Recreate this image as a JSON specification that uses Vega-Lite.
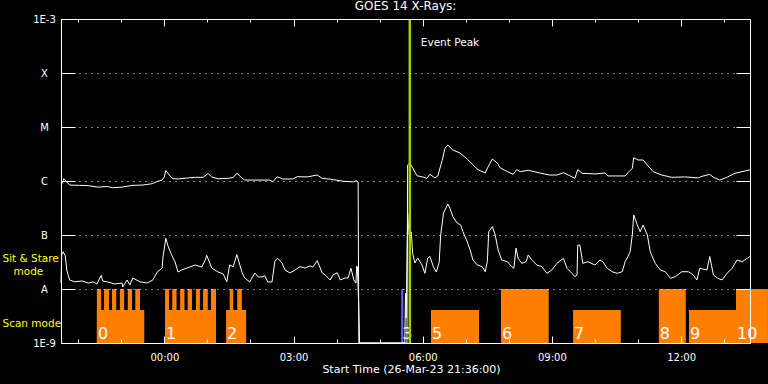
{
  "$schema": "https://vega.github.io/schema/vega-lite/v6.json",
  "width": 689,
  "height": 324,
  "autosize": {"type": "none"},
  "padding": {"left": 61, "top": 19, "right": 18, "bottom": 41},
  "background": "black",
  "config": {
    "font": "DejaVu Sans",
    "view": {"stroke": null},
    "axis": {"domainColor": "white", "tickColor": "white", "labelColor": "white", "titleColor": "white", "labelFont": "DejaVu Sans", "titleFont": "DejaVu Sans", "labelOverlap": false, "domainWidth": 1, "tickWidth": 1}
  },
  "title": {"text": "GOES 14 X-Rays:", "color": "white", "fontSize": 12, "fontWeight": "normal", "anchor": "middle", "offset": 6, "baseline": "alphabetic", "dy": 14, "font": "DejaVu Sans"},
  "resolve": {"axis": {"x": "independent", "y": "independent"}},
  "datasets": {
    "events": [
      {"label": "Event Peak", "t": "2023-03-27T05:42"}
    ],
    "bars": [
      {"group": 0, "t0": "2023-03-26T22:26", "t1": "2023-03-26T23:32", "level": 4.1e-9},
      {"group": 0, "t0": "2023-03-26T22:26", "t1": "2023-03-26T22:32", "level": 1e-8},
      {"group": 0, "t0": "2023-03-26T22:36", "t1": "2023-03-26T22:43", "level": 1e-8},
      {"group": 0, "t0": "2023-03-26T22:47", "t1": "2023-03-26T22:53", "level": 1e-8},
      {"group": 0, "t0": "2023-03-26T22:58", "t1": "2023-03-26T23:04", "level": 1e-8},
      {"group": 0, "t0": "2023-03-26T23:09", "t1": "2023-03-26T23:15", "level": 1e-8},
      {"group": 0, "t0": "2023-03-26T23:19:30", "t1": "2023-03-26T23:26", "level": 1e-8},
      {"group": 1, "t0": "2023-03-27T00:01", "t1": "2023-03-27T01:12", "level": 4.1e-9},
      {"group": 1, "t0": "2023-03-27T00:01", "t1": "2023-03-27T00:06:30", "level": 1e-8},
      {"group": 1, "t0": "2023-03-27T00:11", "t1": "2023-03-27T00:17", "level": 1e-8},
      {"group": 1, "t0": "2023-03-27T00:22", "t1": "2023-03-27T00:28", "level": 1e-8},
      {"group": 1, "t0": "2023-03-27T00:32:30", "t1": "2023-03-27T00:38:30", "level": 1e-8},
      {"group": 1, "t0": "2023-03-27T00:44", "t1": "2023-03-27T00:49:30", "level": 1e-8},
      {"group": 1, "t0": "2023-03-27T00:54", "t1": "2023-03-27T01:00:30", "level": 1e-8},
      {"group": 1, "t0": "2023-03-27T01:05", "t1": "2023-03-27T01:12", "level": 1e-8},
      {"group": 2, "t0": "2023-03-27T01:26", "t1": "2023-03-27T01:54", "level": 4.1e-9},
      {"group": 2, "t0": "2023-03-27T01:31", "t1": "2023-03-27T01:36", "level": 1e-8},
      {"group": 2, "t0": "2023-03-27T01:41:30", "t1": "2023-03-27T01:48", "level": 1e-8},
      {"group": 3, "t0": "2023-03-27T05:30", "t1": "2023-03-27T05:33", "level": 1e-8},
      {"group": 5, "t0": "2023-03-27T06:11:30", "t1": "2023-03-27T07:18:30", "level": 4.1e-9},
      {"group": 6, "t0": "2023-03-27T07:49", "t1": "2023-03-27T08:55:30", "level": 1e-8},
      {"group": 7, "t0": "2023-03-27T09:29:30", "t1": "2023-03-27T10:36", "level": 4.1e-9},
      {"group": 8, "t0": "2023-03-27T11:29", "t1": "2023-03-27T12:06:30", "level": 1e-8},
      {"group": 9, "t0": "2023-03-27T12:11", "t1": "2023-03-27T13:16:30", "level": 4.1e-9},
      {"group": 10, "t0": "2023-03-27T13:16:30", "t1": "2023-03-27T14:01", "level": 1e-8}
    ],
    "groups": [
      {"group": "0", "t": "2023-03-26T22:26"},
      {"group": "1", "t": "2023-03-27T00:01"},
      {"group": "2", "t": "2023-03-27T01:26"},
      {"group": "3", "t": "2023-03-27T05:30"},
      {"group": "5", "t": "2023-03-27T06:11:30"},
      {"group": "6", "t": "2023-03-27T07:49"},
      {"group": "7", "t": "2023-03-27T09:29:30"},
      {"group": "8", "t": "2023-03-27T11:29"},
      {"group": "9", "t": "2023-03-27T12:11"},
      {"group": "10", "t": "2023-03-27T13:16:30"}
    ],
    "xrays": [
      {"band": "long", "t": "2023-03-26T21:36", "flux": 8.1e-7},
      {"band": "long", "t": "2023-03-26T21:40", "flux": 1.11e-6},
      {"band": "long", "t": "2023-03-26T21:48", "flux": 8.4e-7},
      {"band": "long", "t": "2023-03-26T22:02", "flux": 8.3e-7},
      {"band": "long", "t": "2023-03-26T22:14", "flux": 8.2e-7},
      {"band": "long", "t": "2023-03-26T22:28", "flux": 7.7e-7},
      {"band": "long", "t": "2023-03-26T22:41", "flux": 7.9e-7},
      {"band": "long", "t": "2023-03-26T22:48", "flux": 7.5e-7},
      {"band": "long", "t": "2023-03-26T23:01", "flux": 7.7e-7},
      {"band": "long", "t": "2023-03-26T23:15", "flux": 8.3e-7},
      {"band": "long", "t": "2023-03-26T23:29", "flux": 8.4e-7},
      {"band": "long", "t": "2023-03-26T23:43", "flux": 8.9e-7},
      {"band": "long", "t": "2023-03-26T23:51", "flux": 9.9e-7},
      {"band": "long", "t": "2023-03-26T23:57", "flux": 1.04e-6},
      {"band": "long", "t": "2023-03-27T00:00", "flux": 1.19e-6},
      {"band": "long", "t": "2023-03-27T00:02", "flux": 1.56e-6},
      {"band": "long", "t": "2023-03-27T00:08", "flux": 1.24e-6},
      {"band": "long", "t": "2023-03-27T00:12", "flux": 1.10e-6},
      {"band": "long", "t": "2023-03-27T00:19", "flux": 1.09e-6},
      {"band": "long", "t": "2023-03-27T00:33", "flux": 1.14e-6},
      {"band": "long", "t": "2023-03-27T00:43", "flux": 1.17e-6},
      {"band": "long", "t": "2023-03-27T00:54", "flux": 1.17e-6},
      {"band": "long", "t": "2023-03-27T01:01", "flux": 1.38e-6},
      {"band": "long", "t": "2023-03-27T01:06", "flux": 1.19e-6},
      {"band": "long", "t": "2023-03-27T01:15", "flux": 1.10e-6},
      {"band": "long", "t": "2023-03-27T01:29", "flux": 1.12e-6},
      {"band": "long", "t": "2023-03-27T01:36", "flux": 1.16e-6},
      {"band": "long", "t": "2023-03-27T01:41", "flux": 1.39e-6},
      {"band": "long", "t": "2023-03-27T01:48", "flux": 1.14e-6},
      {"band": "long", "t": "2023-03-27T01:52", "flux": 1.04e-6},
      {"band": "long", "t": "2023-03-27T02:04", "flux": 1.04e-6},
      {"band": "long", "t": "2023-03-27T02:27", "flux": 1.04e-6},
      {"band": "long", "t": "2023-03-27T02:31", "flux": 9.6e-7},
      {"band": "long", "t": "2023-03-27T02:37", "flux": 1.19e-6},
      {"band": "long", "t": "2023-03-27T02:41", "flux": 1.15e-6},
      {"band": "long", "t": "2023-03-27T02:45", "flux": 1.09e-6},
      {"band": "long", "t": "2023-03-27T02:59", "flux": 1.09e-6},
      {"band": "long", "t": "2023-03-27T03:05", "flux": 1.20e-6},
      {"band": "long", "t": "2023-03-27T03:19", "flux": 1.19e-6},
      {"band": "long", "t": "2023-03-27T03:33", "flux": 1.29e-6},
      {"band": "long", "t": "2023-03-27T03:40", "flux": 1.12e-6},
      {"band": "long", "t": "2023-03-27T03:51", "flux": 1.08e-6},
      {"band": "long", "t": "2023-03-27T04:09", "flux": 9.9e-7},
      {"band": "long", "t": "2023-03-27T04:23", "flux": 9.6e-7},
      {"band": "long", "t": "2023-03-27T04:28", "flux": 1.01e-6},
      {"band": "long", "t": "2023-03-27T04:30", "flux": 9.6e-7},
      {"band": "long", "t": "2023-03-27T04:31", "flux": 1e-9},
      {"band": "long", "t": "2023-03-27T05:38", "flux": 1e-9},
      {"band": "long", "t": "2023-03-27T05:39", "flux": 1.98e-6},
      {"band": "long", "t": "2023-03-27T05:42", "flux": 2.15e-6},
      {"band": "long", "t": "2023-03-27T05:45", "flux": 1.84e-6},
      {"band": "long", "t": "2023-03-27T05:52", "flux": 1.25e-6},
      {"band": "long", "t": "2023-03-27T06:00", "flux": 1.19e-6},
      {"band": "long", "t": "2023-03-27T06:06", "flux": 1.12e-6},
      {"band": "long", "t": "2023-03-27T06:10", "flux": 1.33e-6},
      {"band": "long", "t": "2023-03-27T06:17", "flux": 1.14e-6},
      {"band": "long", "t": "2023-03-27T06:21", "flux": 1.24e-6},
      {"band": "long", "t": "2023-03-27T06:27", "flux": 2.38e-6},
      {"band": "long", "t": "2023-03-27T06:31", "flux": 4.03e-6},
      {"band": "long", "t": "2023-03-27T06:35", "flux": 4.64e-6},
      {"band": "long", "t": "2023-03-27T06:42", "flux": 3.75e-6},
      {"band": "long", "t": "2023-03-27T06:52", "flux": 3.30e-6},
      {"band": "long", "t": "2023-03-27T07:02", "flux": 2.55e-6},
      {"band": "long", "t": "2023-03-27T07:09", "flux": 2.06e-6},
      {"band": "long", "t": "2023-03-27T07:17", "flux": 1.62e-6},
      {"band": "long", "t": "2023-03-27T07:27", "flux": 1.41e-6},
      {"band": "long", "t": "2023-03-27T07:31", "flux": 1.82e-6},
      {"band": "long", "t": "2023-03-27T07:37", "flux": 2.55e-6},
      {"band": "long", "t": "2023-03-27T07:44", "flux": 2.15e-6},
      {"band": "long", "t": "2023-03-27T07:48", "flux": 1.74e-6},
      {"band": "long", "t": "2023-03-27T07:58", "flux": 1.49e-6},
      {"band": "long", "t": "2023-03-27T08:06", "flux": 1.33e-6},
      {"band": "long", "t": "2023-03-27T08:11", "flux": 1.62e-6},
      {"band": "long", "t": "2023-03-27T08:16", "flux": 1.49e-6},
      {"band": "long", "t": "2023-03-27T08:27", "flux": 1.58e-6},
      {"band": "long", "t": "2023-03-27T08:43", "flux": 1.41e-6},
      {"band": "long", "t": "2023-03-27T08:57", "flux": 1.29e-6},
      {"band": "long", "t": "2023-03-27T09:07", "flux": 1.29e-6},
      {"band": "long", "t": "2023-03-27T09:16", "flux": 1.43e-6},
      {"band": "long", "t": "2023-03-27T09:25", "flux": 1.25e-6},
      {"band": "long", "t": "2023-03-27T09:32", "flux": 1.12e-6},
      {"band": "long", "t": "2023-03-27T09:36", "flux": 1.63e-6},
      {"band": "long", "t": "2023-03-27T09:42", "flux": 1.39e-6},
      {"band": "long", "t": "2023-03-27T10:00", "flux": 1.35e-6},
      {"band": "long", "t": "2023-03-27T10:14", "flux": 1.41e-6},
      {"band": "long", "t": "2023-03-27T10:18", "flux": 1.24e-6},
      {"band": "long", "t": "2023-03-27T10:42", "flux": 1.24e-6},
      {"band": "long", "t": "2023-03-27T10:46", "flux": 1.43e-6},
      {"band": "long", "t": "2023-03-27T10:52", "flux": 1.72e-6},
      {"band": "long", "t": "2023-03-27T10:54", "flux": 2.70e-6},
      {"band": "long", "t": "2023-03-27T11:00", "flux": 2.45e-6},
      {"band": "long", "t": "2023-03-27T11:07", "flux": 2.45e-6},
      {"band": "long", "t": "2023-03-27T11:14", "flux": 1.90e-6},
      {"band": "long", "t": "2023-03-27T11:21", "flux": 1.49e-6},
      {"band": "long", "t": "2023-03-27T11:33", "flux": 1.29e-6},
      {"band": "long", "t": "2023-03-27T11:47", "flux": 1.17e-6},
      {"band": "long", "t": "2023-03-27T12:06", "flux": 1.19e-6},
      {"band": "long", "t": "2023-03-27T12:24", "flux": 1.14e-6},
      {"band": "long", "t": "2023-03-27T12:29", "flux": 1.22e-6},
      {"band": "long", "t": "2023-03-27T12:40", "flux": 1.33e-6},
      {"band": "long", "t": "2023-03-27T12:45", "flux": 1.17e-6},
      {"band": "long", "t": "2023-03-27T12:54", "flux": 1.04e-6},
      {"band": "long", "t": "2023-03-27T13:05", "flux": 1.19e-6},
      {"band": "long", "t": "2023-03-27T13:15", "flux": 1.39e-6},
      {"band": "long", "t": "2023-03-27T13:33", "flux": 1.58e-6},
      {"band": "long", "t": "2023-03-27T13:36", "flux": 1.60e-6},
      {"band": "short", "t": "2023-03-26T21:36", "flux": 1.29e-8},
      {"band": "short", "t": "2023-03-26T21:37", "flux": 4.3e-8},
      {"band": "short", "t": "2023-03-26T21:39", "flux": 4.9e-8},
      {"band": "short", "t": "2023-03-26T21:42", "flux": 4.1e-8},
      {"band": "short", "t": "2023-03-26T21:44", "flux": 2.25e-8},
      {"band": "short", "t": "2023-03-26T21:48", "flux": 1.47e-8},
      {"band": "short", "t": "2023-03-26T21:55", "flux": 1.36e-8},
      {"band": "short", "t": "2023-03-26T22:05", "flux": 1.41e-8},
      {"band": "short", "t": "2023-03-26T22:14", "flux": 1.29e-8},
      {"band": "short", "t": "2023-03-26T22:21", "flux": 1.35e-8},
      {"band": "short", "t": "2023-03-26T22:26", "flux": 1.24e-8},
      {"band": "short", "t": "2023-03-26T22:32", "flux": 1.78e-8},
      {"band": "short", "t": "2023-03-26T22:34", "flux": 1.41e-8},
      {"band": "short", "t": "2023-03-26T22:41", "flux": 1.35e-8},
      {"band": "short", "t": "2023-03-26T22:51", "flux": 1.24e-8},
      {"band": "short", "t": "2023-03-26T23:01", "flux": 1.29e-8},
      {"band": "short", "t": "2023-03-26T23:02", "flux": 1.09e-8},
      {"band": "short", "t": "2023-03-26T23:08", "flux": 1.47e-8},
      {"band": "short", "t": "2023-03-26T23:12", "flux": 1.19e-8},
      {"band": "short", "t": "2023-03-26T23:16", "flux": 1.60e-8},
      {"band": "short", "t": "2023-03-26T23:26", "flux": 1.36e-8},
      {"band": "short", "t": "2023-03-26T23:36", "flux": 1.29e-8},
      {"band": "short", "t": "2023-03-26T23:44", "flux": 1.47e-8},
      {"band": "short", "t": "2023-03-26T23:50", "flux": 2.06e-8},
      {"band": "short", "t": "2023-03-26T23:57", "flux": 2.45e-8},
      {"band": "short", "t": "2023-03-26T23:58", "flux": 3.75e-8},
      {"band": "short", "t": "2023-03-27T00:02", "flux": 8.7e-8},
      {"band": "short", "t": "2023-03-27T00:05", "flux": 6.3e-8},
      {"band": "short", "t": "2023-03-27T00:10", "flux": 4.3e-8},
      {"band": "short", "t": "2023-03-27T00:15", "flux": 3.16e-8},
      {"band": "short", "t": "2023-03-27T00:19", "flux": 2.06e-8},
      {"band": "short", "t": "2023-03-27T00:24", "flux": 2.25e-8},
      {"band": "short", "t": "2023-03-27T00:33", "flux": 2.48e-8},
      {"band": "short", "t": "2023-03-27T00:43", "flux": 2.78e-8},
      {"band": "short", "t": "2023-03-27T00:52", "flux": 2.55e-8},
      {"band": "short", "t": "2023-03-27T00:57", "flux": 3.44e-8},
      {"band": "short", "t": "2023-03-27T00:59", "flux": 4.2e-8},
      {"band": "short", "t": "2023-03-27T01:06", "flux": 2.45e-8},
      {"band": "short", "t": "2023-03-27T01:15", "flux": 2.06e-8},
      {"band": "short", "t": "2023-03-27T01:22", "flux": 1.90e-8},
      {"band": "short", "t": "2023-03-27T01:27", "flux": 1.36e-8},
      {"band": "short", "t": "2023-03-27T01:31", "flux": 2.78e-8},
      {"band": "short", "t": "2023-03-27T01:36", "flux": 2.59e-8},
      {"band": "short", "t": "2023-03-27T01:41", "flux": 4.35e-8},
      {"band": "short", "t": "2023-03-27T01:48", "flux": 2.06e-8},
      {"band": "short", "t": "2023-03-27T01:52", "flux": 1.60e-8},
      {"band": "short", "t": "2023-03-27T01:59", "flux": 1.35e-8},
      {"band": "short", "t": "2023-03-27T02:06", "flux": 1.98e-8},
      {"band": "short", "t": "2023-03-27T02:11", "flux": 1.67e-8},
      {"band": "short", "t": "2023-03-27T02:16", "flux": 1.67e-8},
      {"band": "short", "t": "2023-03-27T02:20", "flux": 1.76e-8},
      {"band": "short", "t": "2023-03-27T02:24", "flux": 1.35e-8},
      {"band": "short", "t": "2023-03-27T02:30", "flux": 1.35e-8},
      {"band": "short", "t": "2023-03-27T02:34", "flux": 3.30e-8},
      {"band": "short", "t": "2023-03-27T02:38", "flux": 3.70e-8},
      {"band": "short", "t": "2023-03-27T02:44", "flux": 3.03e-8},
      {"band": "short", "t": "2023-03-27T02:48", "flux": 2.25e-8},
      {"band": "short", "t": "2023-03-27T02:55", "flux": 1.98e-8},
      {"band": "short", "t": "2023-03-27T03:02", "flux": 2.25e-8},
      {"band": "short", "t": "2023-03-27T03:09", "flux": 2.59e-8},
      {"band": "short", "t": "2023-03-27T03:16", "flux": 2.45e-8},
      {"band": "short", "t": "2023-03-27T03:23", "flux": 2.67e-8},
      {"band": "short", "t": "2023-03-27T03:27", "flux": 2.55e-8},
      {"band": "short", "t": "2023-03-27T03:33", "flux": 3.34e-8},
      {"band": "short", "t": "2023-03-27T03:40", "flux": 1.98e-8},
      {"band": "short", "t": "2023-03-27T03:44", "flux": 1.82e-8},
      {"band": "short", "t": "2023-03-27T03:51", "flux": 1.47e-8},
      {"band": "short", "t": "2023-03-27T03:55", "flux": 1.82e-8},
      {"band": "short", "t": "2023-03-27T04:01", "flux": 2.00e-8},
      {"band": "short", "t": "2023-03-27T04:05", "flux": 1.47e-8},
      {"band": "short", "t": "2023-03-27T04:12", "flux": 1.60e-8},
      {"band": "short", "t": "2023-03-27T04:16", "flux": 1.60e-8},
      {"band": "short", "t": "2023-03-27T04:20", "flux": 2.42e-8},
      {"band": "short", "t": "2023-03-27T04:24", "flux": 1.47e-8},
      {"band": "short", "t": "2023-03-27T04:27", "flux": 1.29e-8},
      {"band": "short", "t": "2023-03-27T04:28", "flux": 2.67e-8},
      {"band": "short", "t": "2023-03-27T04:29", "flux": 2.55e-8},
      {"band": "short", "t": "2023-03-27T04:31", "flux": 4.1e-9},
      {"band": "short", "t": "2023-03-27T04:32", "flux": 1e-9},
      {"band": "short", "t": "2023-03-27T05:35", "flux": 1e-9},
      {"band": "short", "t": "2023-03-27T05:36", "flux": 8.4e-9},
      {"band": "short", "t": "2023-03-27T05:37", "flux": 2.9e-9},
      {"band": "short", "t": "2023-03-27T05:39", "flux": 2.56e-7},
      {"band": "short", "t": "2023-03-27T05:41", "flux": 1.0e-7},
      {"band": "short", "t": "2023-03-27T05:44", "flux": 1.14e-7},
      {"band": "short", "t": "2023-03-27T05:46", "flux": 4.6e-8},
      {"band": "short", "t": "2023-03-27T05:49", "flux": 3.03e-8},
      {"band": "short", "t": "2023-03-27T05:53", "flux": 3.75e-8},
      {"band": "short", "t": "2023-03-27T05:59", "flux": 2.78e-8},
      {"band": "short", "t": "2023-03-27T06:03", "flux": 1.95e-8},
      {"band": "short", "t": "2023-03-27T06:07", "flux": 3.75e-8},
      {"band": "short", "t": "2023-03-27T06:10", "flux": 4.0e-8},
      {"band": "short", "t": "2023-03-27T06:15", "flux": 2.55e-8},
      {"band": "short", "t": "2023-03-27T06:19", "flux": 2.06e-8},
      {"band": "short", "t": "2023-03-27T06:23", "flux": 3.16e-8},
      {"band": "short", "t": "2023-03-27T06:25", "flux": 1.0e-7},
      {"band": "short", "t": "2023-03-27T06:29", "flux": 2.56e-7},
      {"band": "short", "t": "2023-03-27T06:35", "flux": 3.75e-7},
      {"band": "short", "t": "2023-03-27T06:38", "flux": 3.12e-7},
      {"band": "short", "t": "2023-03-27T06:42", "flux": 2.18e-7},
      {"band": "short", "t": "2023-03-27T06:48", "flux": 1.67e-7},
      {"band": "short", "t": "2023-03-27T06:53", "flux": 1.53e-7},
      {"band": "short", "t": "2023-03-27T06:56", "flux": 1.15e-7},
      {"band": "short", "t": "2023-03-27T07:02", "flux": 7.5e-8},
      {"band": "short", "t": "2023-03-27T07:06", "flux": 5.3e-8},
      {"band": "short", "t": "2023-03-27T07:10", "flux": 3.44e-8},
      {"band": "short", "t": "2023-03-27T07:16", "flux": 2.78e-8},
      {"band": "short", "t": "2023-03-27T07:23", "flux": 2.59e-8},
      {"band": "short", "t": "2023-03-27T07:27", "flux": 2.09e-8},
      {"band": "short", "t": "2023-03-27T07:30", "flux": 3.20e-8},
      {"band": "short", "t": "2023-03-27T07:32", "flux": 1.15e-7},
      {"band": "short", "t": "2023-03-27T07:37", "flux": 1.43e-7},
      {"band": "short", "t": "2023-03-27T07:41", "flux": 1.0e-7},
      {"band": "short", "t": "2023-03-27T07:45", "flux": 5.3e-8},
      {"band": "short", "t": "2023-03-27T07:50", "flux": 3.44e-8},
      {"band": "short", "t": "2023-03-27T07:58", "flux": 3.20e-8},
      {"band": "short", "t": "2023-03-27T08:04", "flux": 2.59e-8},
      {"band": "short", "t": "2023-03-27T08:07", "flux": 2.42e-8},
      {"band": "short", "t": "2023-03-27T08:10", "flux": 5.7e-8},
      {"band": "short", "t": "2023-03-27T08:13", "flux": 3.70e-8},
      {"band": "short", "t": "2023-03-27T08:18", "flux": 2.99e-8},
      {"band": "short", "t": "2023-03-27T08:24", "flux": 3.20e-8},
      {"band": "short", "t": "2023-03-27T08:27", "flux": 4.26e-8},
      {"band": "short", "t": "2023-03-27T08:32", "flux": 3.44e-8},
      {"band": "short", "t": "2023-03-27T08:39", "flux": 2.78e-8},
      {"band": "short", "t": "2023-03-27T08:46", "flux": 2.59e-8},
      {"band": "short", "t": "2023-03-27T08:53", "flux": 1.95e-8},
      {"band": "short", "t": "2023-03-27T09:00", "flux": 2.25e-8},
      {"band": "short", "t": "2023-03-27T09:07", "flux": 2.99e-8},
      {"band": "short", "t": "2023-03-27T09:16", "flux": 3.70e-8},
      {"band": "short", "t": "2023-03-27T09:21", "flux": 2.42e-8},
      {"band": "short", "t": "2023-03-27T09:28", "flux": 1.95e-8},
      {"band": "short", "t": "2023-03-27T09:32", "flux": 1.69e-8},
      {"band": "short", "t": "2023-03-27T09:35", "flux": 1.82e-8},
      {"band": "short", "t": "2023-03-27T09:36", "flux": 6.5e-8},
      {"band": "short", "t": "2023-03-27T09:39", "flux": 6.5e-8},
      {"band": "short", "t": "2023-03-27T09:43", "flux": 2.99e-8},
      {"band": "short", "t": "2023-03-27T09:50", "flux": 3.20e-8},
      {"band": "short", "t": "2023-03-27T10:00", "flux": 2.78e-8},
      {"band": "short", "t": "2023-03-27T10:07", "flux": 3.44e-8},
      {"band": "short", "t": "2023-03-27T10:11", "flux": 3.20e-8},
      {"band": "short", "t": "2023-03-27T10:17", "flux": 2.42e-8},
      {"band": "short", "t": "2023-03-27T10:24", "flux": 2.09e-8},
      {"band": "short", "t": "2023-03-27T10:31", "flux": 1.95e-8},
      {"band": "short", "t": "2023-03-27T10:38", "flux": 2.09e-8},
      {"band": "short", "t": "2023-03-27T10:42", "flux": 3.20e-8},
      {"band": "short", "t": "2023-03-27T10:46", "flux": 4.0e-8},
      {"band": "short", "t": "2023-03-27T10:49", "flux": 4.9e-8},
      {"band": "short", "t": "2023-03-27T10:52", "flux": 1.0e-7},
      {"band": "short", "t": "2023-03-27T10:54", "flux": 2.35e-7},
      {"band": "short", "t": "2023-03-27T10:59", "flux": 1.53e-7},
      {"band": "short", "t": "2023-03-27T11:03", "flux": 1.15e-7},
      {"band": "short", "t": "2023-03-27T11:07", "flux": 1.53e-7},
      {"band": "short", "t": "2023-03-27T11:13", "flux": 1.0e-7},
      {"band": "short", "t": "2023-03-27T11:17", "flux": 4.9e-8},
      {"band": "short", "t": "2023-03-27T11:24", "flux": 2.99e-8},
      {"band": "short", "t": "2023-03-27T11:31", "flux": 2.25e-8},
      {"band": "short", "t": "2023-03-27T11:38", "flux": 2.09e-8},
      {"band": "short", "t": "2023-03-27T11:45", "flux": 1.58e-8},
      {"band": "short", "t": "2023-03-27T11:52", "flux": 1.69e-8},
      {"band": "short", "t": "2023-03-27T12:01", "flux": 2.09e-8},
      {"band": "short", "t": "2023-03-27T12:10", "flux": 2.09e-8},
      {"band": "short", "t": "2023-03-27T12:17", "flux": 1.82e-8},
      {"band": "short", "t": "2023-03-27T12:22", "flux": 1.47e-8},
      {"band": "short", "t": "2023-03-27T12:26", "flux": 2.42e-8},
      {"band": "short", "t": "2023-03-27T12:36", "flux": 2.25e-8},
      {"band": "short", "t": "2023-03-27T12:40", "flux": 4.0e-8},
      {"band": "short", "t": "2023-03-27T12:45", "flux": 1.82e-8},
      {"band": "short", "t": "2023-03-27T12:51", "flux": 1.58e-8},
      {"band": "short", "t": "2023-03-27T12:57", "flux": 1.47e-8},
      {"band": "short", "t": "2023-03-27T13:04", "flux": 1.95e-8},
      {"band": "short", "t": "2023-03-27T13:11", "flux": 2.42e-8},
      {"band": "short", "t": "2023-03-27T13:18", "flux": 3.44e-8},
      {"band": "short", "t": "2023-03-27T13:25", "flux": 3.20e-8},
      {"band": "short", "t": "2023-03-27T13:32", "flux": 3.70e-8},
      {"band": "short", "t": "2023-03-27T13:36", "flux": 4.0e-8}
    ]
  },
  "layer": [
    {
      "data": {"name": "bars"},
      "mark": {"type": "rect", "clip": false},
      "encoding": {
        "x": {"field": "t0", "type": "temporal",
          "scale": {"type": "time", "nice": false, "domain": [{"year": 2023, "month": 3, "date": 26, "hours": 21, "minutes": 36}, {"year": 2023, "month": 3, "date": 27, "hours": 13, "minutes": 36}]},
          "axis": {"orient": "bottom", "format": "%H:%M", "values": [{"year": 2023, "month": 3, "date": 27, "hours": 0}, {"year": 2023, "month": 3, "date": 27, "hours": 3}, {"year": 2023, "month": 3, "date": 27, "hours": 6}, {"year": 2023, "month": 3, "date": 27, "hours": 9}, {"year": 2023, "month": 3, "date": 27, "hours": 12}],
            "tickSize": -7, "labelPadding": 16, "labelFontSize": 10, "labelFlush": false, "grid": false, "domain": true, "zindex": 1,
            "title": "Start Time (26-Mar-23 21:36:00)", "titleFontSize": 11, "titleFontWeight": "normal", "titleY": 29, "titleX": 350, "titleAlign": "center", "titleBaseline": "alphabetic"}},
        "x2": {"field": "t1"},
        "y": {"field": "level", "type": "quantitative",
          "scale": {"type": "log", "nice": false, "domain": [1e-9, 1e-3]},
          "axis": {"orient": "left", "values": [1e-9, 1e-8, 1e-7, 1e-6, 1e-5, 1e-4, 1e-3],
            "labelExpr": "datum.value > 5e-4 ? '1E-3' : datum.value > 5e-5 ? 'X' : datum.value > 5e-6 ? 'M' : datum.value > 5e-7 ? 'C' : datum.value > 5e-8 ? 'B' : datum.value > 5e-9 ? 'A' : '1E-9'",
            "tickSize": -14, "labelPadding": 31, "labelAlign": "center", "labelBaseline": "middle", "labelFlush": true, "labelFontSize": 10,
            "grid": true, "gridColor": "white", "gridDash": [1, 5], "gridWidth": 1, "title": null, "domain": true, "zindex": 1}},
        "y2": {"datum": 1e-9},
        "color": {"condition": {"test": "datum.group === 3", "value": "#6060ff"}, "value": "#ff8000"}
      }
    },
    {
      "data": {"name": "groups"},
      "mark": {"type": "text", "align": "left", "baseline": "alphabetic", "dx": 1, "dy": -4, "fontSize": 16, "color": "white", "clip": false},
      "encoding": {
        "x": {"field": "t", "type": "temporal", "scale": {"type": "time", "nice": false, "domain": [{"year": 2023, "month": 3, "date": 26, "hours": 21, "minutes": 36}, {"year": 2023, "month": 3, "date": 27, "hours": 13, "minutes": 36}]}, "axis": null},
        "y": {"datum": 1e-9, "type": "quantitative", "scale": {"type": "log", "nice": false, "domain": [1e-9, 1e-3]}, "axis": null},
        "text": {"field": "group", "type": "nominal"}
      }
    },
    {
      "data": {"name": "xrays"},
      "mark": {"type": "line", "color": "white", "strokeWidth": 1},
      "encoding": {
        "x": {"field": "t", "type": "temporal", "scale": {"type": "time", "nice": false, "domain": [{"year": 2023, "month": 3, "date": 26, "hours": 21, "minutes": 36}, {"year": 2023, "month": 3, "date": 27, "hours": 13, "minutes": 36}]},
          "axis": {"orient": "top", "values": [{"year": 2023, "month": 3, "date": 27, "hours": 0}, {"year": 2023, "month": 3, "date": 27, "hours": 3}, {"year": 2023, "month": 3, "date": 27, "hours": 6}, {"year": 2023, "month": 3, "date": 27, "hours": 9}, {"year": 2023, "month": 3, "date": 27, "hours": 12}], "tickSize": -7, "labels": false, "title": null, "grid": false, "domain": true, "zindex": 1}},
        "y": {"field": "flux", "type": "quantitative", "scale": {"type": "log", "nice": false, "domain": [1e-9, 1e-3]},
          "axis": {"orient": "right", "values": [1e-9, 1e-8, 1e-7, 1e-6, 1e-5, 1e-4, 1e-3], "tickSize": -14, "labels": false, "title": null, "grid": false, "domain": true, "zindex": 1}},
        "detail": {"field": "band", "type": "nominal"}
      }
    },
    {
      "mark": {"type": "rule", "color": "#ffff00", "strokeWidth": 1},
      "encoding": {
        "x": {"datum": {"year": 2023, "month": 3, "date": 27, "hours": 5, "minutes": 33, "seconds": 30}, "type": "temporal", "scale": {"type": "time", "nice": false, "domain": [{"year": 2023, "month": 3, "date": 26, "hours": 21, "minutes": 36}, {"year": 2023, "month": 3, "date": 27, "hours": 13, "minutes": 36}]}, "axis": null},
        "y": {"datum": 1e-7, "type": "quantitative", "scale": {"type": "log", "nice": false, "domain": [1e-9, 1e-3]}, "axis": null},
        "y2": {"datum": 1e-8}
      }
    },
    {
      "data": {"name": "events"},
      "mark": {"type": "rule", "color": "#a0d000", "strokeWidth": 2.5},
      "encoding": {
        "x": {"field": "t", "type": "temporal", "scale": {"type": "time", "nice": false, "domain": [{"year": 2023, "month": 3, "date": 26, "hours": 21, "minutes": 36}, {"year": 2023, "month": 3, "date": 27, "hours": 13, "minutes": 36}]},
          "axis": {"orient": "bottom", "values": [{"year": 2023, "month": 3, "date": 26, "hours": 22}, {"year": 2023, "month": 3, "date": 26, "hours": 23}, {"year": 2023, "month": 3, "date": 27, "hours": 1}, {"year": 2023, "month": 3, "date": 27, "hours": 2}, {"year": 2023, "month": 3, "date": 27, "hours": 4}, {"year": 2023, "month": 3, "date": 27, "hours": 5}, {"year": 2023, "month": 3, "date": 27, "hours": 7}, {"year": 2023, "month": 3, "date": 27, "hours": 8}, {"year": 2023, "month": 3, "date": 27, "hours": 10}, {"year": 2023, "month": 3, "date": 27, "hours": 11}, {"year": 2023, "month": 3, "date": 27, "hours": 13}], "tickSize": -4, "labels": false, "title": null, "grid": false, "domain": false, "zindex": 1}}
      }
    },
    {
      "data": {"name": "events"},
      "mark": {"type": "text", "align": "left", "baseline": "middle", "dx": 11, "fontSize": 10.5, "color": "white"},
      "encoding": {
        "x": {"field": "t", "type": "temporal", "scale": {"type": "time", "nice": false, "domain": [{"year": 2023, "month": 3, "date": 26, "hours": 21, "minutes": 36}, {"year": 2023, "month": 3, "date": 27, "hours": 13, "minutes": 36}]},
          "axis": {"orient": "top", "values": [{"year": 2023, "month": 3, "date": 26, "hours": 22}, {"year": 2023, "month": 3, "date": 26, "hours": 23}, {"year": 2023, "month": 3, "date": 27, "hours": 1}, {"year": 2023, "month": 3, "date": 27, "hours": 2}, {"year": 2023, "month": 3, "date": 27, "hours": 4}, {"year": 2023, "month": 3, "date": 27, "hours": 5}, {"year": 2023, "month": 3, "date": 27, "hours": 7}, {"year": 2023, "month": 3, "date": 27, "hours": 8}, {"year": 2023, "month": 3, "date": 27, "hours": 10}, {"year": 2023, "month": 3, "date": 27, "hours": 11}, {"year": 2023, "month": 3, "date": 27, "hours": 13}], "tickSize": -3, "labels": false, "title": null, "grid": false, "domain": false, "zindex": 1}},
        "y": {"datum": 3.6e-4, "type": "quantitative", "scale": {"type": "log", "nice": false, "domain": [1e-9, 1e-3]},
          "axis": {"orient": "left", "values": [3.75e-8, 2.11e-8, 2.3e-9],
            "labelExpr": "datum.value > 3e-8 ? 'Sit & Stare' : datum.value > 1e-8 ? 'mode' : 'Scan mode'",
            "ticks": false, "tickSize": 0, "domain": false, "grid": false, "title": null, "labelColor": "#ffff00", "labelFontSize": 10.5, "labelAlign": "left", "labelBaseline": "middle", "labelFlush": false,
            "labelPadding": {"condition": {"test": "datum.value > 1e-8 && datum.value < 3e-8", "value": 48}, "value": 59}, "zindex": 1}},
        "text": {"field": "label", "type": "nominal"}
      }
    },
    {
      "mark": {"type": "rule", "color": "white", "strokeWidth": 1, "clip": false},
      "encoding": {
        "x": {"datum": {"year": 2023, "month": 3, "date": 27, "hours": 13, "minutes": 36}, "type": "temporal", "scale": {"type": "time", "nice": false, "domain": [{"year": 2023, "month": 3, "date": 26, "hours": 21, "minutes": 36}, {"year": 2023, "month": 3, "date": 27, "hours": 13, "minutes": 36}]}, "axis": null},
        "x2": {"datum": {"year": 2023, "month": 3, "date": 27, "hours": 14, "minutes": 1}},
        "y": {"datum": 1e-9, "type": "quantitative", "scale": {"type": "log", "nice": false, "domain": [1e-9, 1e-3]}, "axis": null}
      }
    }
  ]
}
